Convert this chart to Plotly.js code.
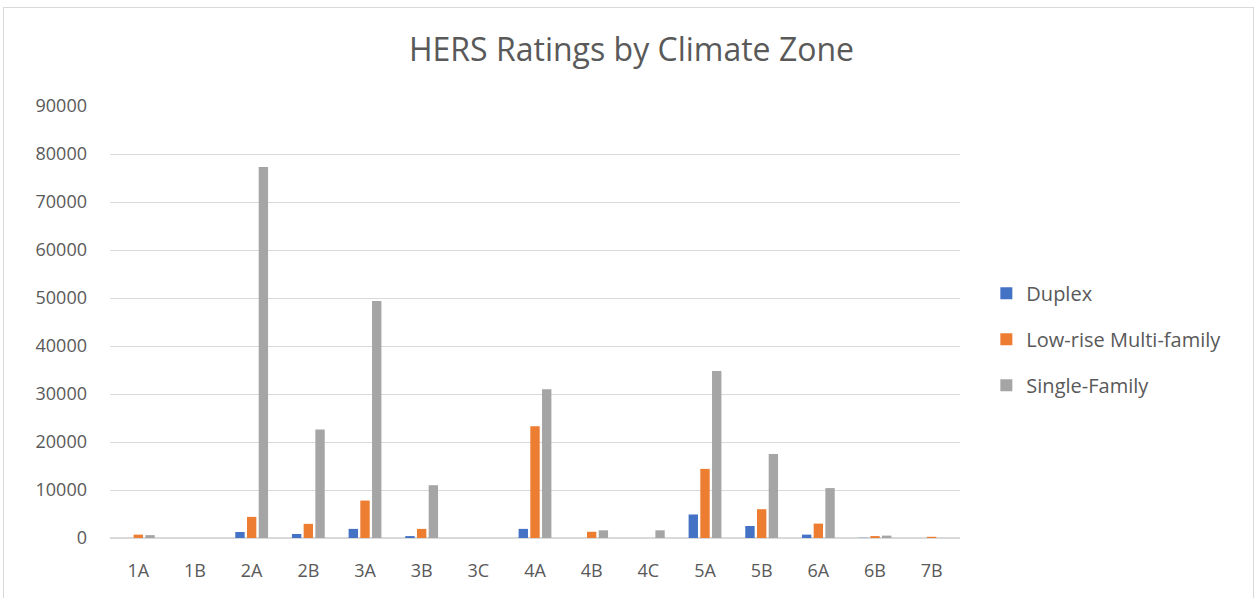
<!DOCTYPE html>
<html>
<head>
<meta charset="utf-8">
<script src="https://cdn.plot.ly/plotly-3.0.1.min.js"></script>
<style>
html,body{margin:0;padding:0;background:#fff;}
#chart{width:1258px;height:598px;}
#frame{position:absolute;left:3px;top:7px;width:1249px;height:600px;border:1px solid #d9d9d9;pointer-events:none;}
</style>
</head>
<body>
<div id="chart"></div>
<div id="frame"></div>
<script>
const categories = ['1A','1B','2A','2B','3A','3B','3C','4A','4B','4C','5A','5B','6A','6B','7B'];
const duplex = [0, 0, 1250, 830, 1900, 400, 0, 1900, 0, 0, 4900, 2500, 700, 50, 0];
const lowRise = [700, 0, 4400, 2950, 7800, 1900, 0, 23300, 1300, 0, 14400, 6000, 3000, 400, 250];
const singleFamily = [600, 0, 77300, 22600, 49400, 11000, 0, 31000, 1600, 1600, 34800, 17500, 10400, 500, 0];
const seriesNames = ['Duplex','Low-rise Multi-family','Single-Family'];
const seriesColors = ['#4472C4','#ED7D31','#A5A5A5'];
const seriesData = [duplex, lowRise, singleFamily];

const traces = seriesData.map((d,i)=>({
  type:'bar', x:categories, y:d, name:seriesNames[i],
  legendgroup:'g'+i,
  marker:{color:seriesColors[i]},
  hoverinfo:'x+y+name'
}));

const layout = {
  width:1258, height:598,
  paper_bgcolor:'#fff', plot_bgcolor:'#fff',
  margin:{l:110, r:298, t:106, b:60},
  title:{text:'HERS Ratings by Climate Zone', x:0.502, xref:'container', xanchor:'center', y:0.935, yref:'container',
    font:{family:'Open Sans, Noto Sans, sans-serif', size:32, color:'#595959'}},
  font:{family:'Open Sans, Noto Sans, sans-serif', color:'#595959'},
  barmode:'group', bargap:0.38, bargroupgap:0.2,
  xaxis:{type:'category', showgrid:false, showline:false, zeroline:false,
    ticks:'', tickfont:{size:18, color:'#595959'}, ticklabelstandoff:20},
  yaxis:{range:[0,90000], dtick:10000, tickformat:'d', showgrid:true, gridcolor:'#d9d9d9', gridwidth:1,
    zeroline:true, zerolinecolor:'#d9d9d9', zerolinewidth:1.5, showline:false, ticks:'',
    tickfont:{size:18, color:'#595959'}, ticklabelstandoff:22, fixedrange:true},
  showlegend:true,
  legend:{x:1.031, xanchor:'left', y:0.46, yanchor:'middle', traceorder:'grouped',
    tracegroupgap:17, font:{size:20, color:'#595959'}, itemwidth:30, bgcolor:'rgba(0,0,0,0)'}
};

Plotly.newPlot('chart', traces, layout, {displayModeBar:false, staticPlot:true});
</script>
</body>
</html>
